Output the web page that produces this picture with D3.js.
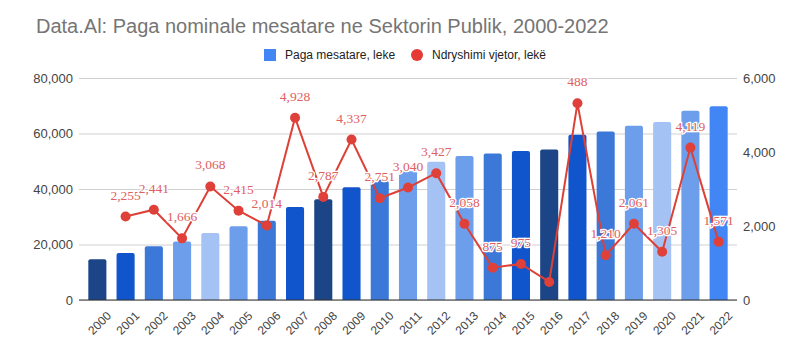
<!DOCTYPE html>
<html><head><meta charset="utf-8">
<script src="https://cdn.jsdelivr.net/npm/d3@7"></script>
<style>body{margin:0;background:#fff}svg{display:block}</style>
</head><body><svg id="c" width="811" height="360"></svg>
<script>
const years = ["2000","2001","2002","2003","2004","2005","2006","2007","2008","2009","2010","2011","2012","2013","2014","2015","2016","2017","2018","2019","2020","2021","2022"];
const wages = [14700,16955,19396,21062,24130,26545,28559,33487,36274,40611,43362,46402,49829,51887,52762,53737,54225,59541,60751,62812,64117,68236,69807];
const changes = [null,2255,2441,1666,3068,2415,2014,4928,2787,4337,2751,3040,3427,2058,875,975,488,5316,1210,2061,1305,4119,1571];
const changeLabels = ["","2,255","2,441","1,666","3,068","2,415","2,014","4,928","2,787","4,337","2,751","3,040","3,427","2,058","875","975","","488","1,210","2,061","1,305","4,119","1,571"];
const barColors = ["#1c4587","#1155cc","#3c78d8","#6d9eeb","#a4c2f4","#6d9eeb","#3c78d8","#1155cc","#1c4587","#1155cc","#3c78d8","#6d9eeb","#a4c2f4","#6d9eeb","#3c78d8","#1155cc","#1c4587","#1155cc","#3c78d8","#6d9eeb","#a4c2f4","#6d9eeb","#4285f4"];
const leftTicks = [0,20000,40000,60000,80000];
const rightTicks = [0,2000,4000,6000];
const title = "Data.Al: Paga nominale mesatare ne Sektorin Publik, 2000-2022";
const legendItems = ["Paga mesatare, leke","Ndryshimi vjetor, lekë"];

const svg = d3.select("#c");
const L=79,R=737,T=78,B=300;
const x = d3.scaleBand().domain(years).range([L,R]).paddingInner(0.36).paddingOuter(0.33);
const yL = d3.scaleLinear().domain([0,80000]).range([B,T]);
const yR = d3.scaleLinear().domain([0,6000]).range([B,T]);
const fmt = d3.format(",");

svg.append("text").attr("x",36).attr("y",33).attr("font-family","Liberation Sans, Arial, sans-serif")
  .attr("font-size",20).attr("fill","#757575").text(title);

// legend
const lg = svg.append("g").attr("font-family","Liberation Sans, Arial, sans-serif").attr("font-size",12).attr("fill","#222");
lg.append("rect").attr("x",264).attr("y",49).attr("width",12).attr("height",12).attr("fill","#4285f4");
lg.append("text").attr("x",285).attr("y",59).text(legendItems[0]);
lg.append("circle").attr("cx",417).attr("cy",55).attr("r",6).attr("fill","#e53935");
lg.append("text").attr("x",432).attr("y",59).text(legendItems[1]);

// grid + left axis
const gl = svg.append("g").attr("transform",`translate(${L},0)`)
  .call(d3.axisLeft(yL).tickValues(leftTicks).tickFormat(fmt).tickSize(-(R-L)).tickPadding(6));
gl.select(".domain").remove();
gl.selectAll(".tick line").attr("stroke","#d0d0d0");
gl.selectAll(".tick text").attr("font-family","Liberation Sans, Arial, sans-serif").attr("font-size",13).attr("fill","#444");

const gr = svg.append("g").attr("transform",`translate(${R},0)`)
  .call(d3.axisRight(yR).tickValues(rightTicks).tickFormat(fmt).tickSize(0).tickPadding(6));
gr.select(".domain").remove();
gr.selectAll(".tick text").attr("font-family","Liberation Sans, Arial, sans-serif").attr("font-size",13).attr("fill","#444");

// bars
const bw = x.bandwidth(), r = 2;
svg.append("g").selectAll("path").data(years).join("path")
  .attr("d",(d,i)=>{const x0=x(d),y0=yL(wages[i]);return `M${x0},${B}V${y0+r}Q${x0},${y0} ${x0+r},${y0}H${x0+bw-r}Q${x0+bw},${y0} ${x0+bw},${y0+r}V${B}Z`;})
  .attr("fill",(d,i)=>barColors[i]);

// zero line
svg.append("line").attr("x1",L).attr("x2",R).attr("y1",B).attr("y2",B).attr("stroke","#333").attr("stroke-width",1.2);

// x axis labels
const gx = svg.append("g").attr("transform",`translate(0,${B})`).call(d3.axisBottom(x).tickSize(0).tickPadding(8));
gx.select(".domain").remove();
gx.selectAll(".tick text").attr("font-family","Liberation Sans, Arial, sans-serif").attr("font-size",12).attr("fill","#444")
  .attr("text-anchor","end").attr("dy","0.35em").attr("transform","translate(6,8) rotate(-45)");

// line
const pts = years.map((d,i)=>({d,v:changes[i],l:changeLabels[i]})).filter(p=>p.v!=null);
const line = d3.line().x(p=>x(p.d)+bw/2).y(p=>yR(p.v));
svg.append("path").datum(pts).attr("d",line).attr("fill","none").attr("stroke","#dd4036").attr("stroke-width",2);
svg.append("g").selectAll("circle").data(pts).join("circle")
  .attr("cx",p=>x(p.d)+bw/2).attr("cy",p=>yR(p.v)).attr("r",5).attr("fill","#e0403a");
svg.append("g").selectAll("text").data(pts.filter(p=>p.l)).join("text")
  .attr("x",p=>x(p.d)+bw/2).attr("y",p=>yR(p.v)-17).attr("text-anchor","middle")
  .attr("font-family","Liberation Serif, Times New Roman, serif").attr("font-size",13.5)
  .attr("fill","#e06060").attr("stroke","#fff").attr("stroke-width",2.5).attr("paint-order","stroke")
  .text(p=>p.l);
</script></body></html>
